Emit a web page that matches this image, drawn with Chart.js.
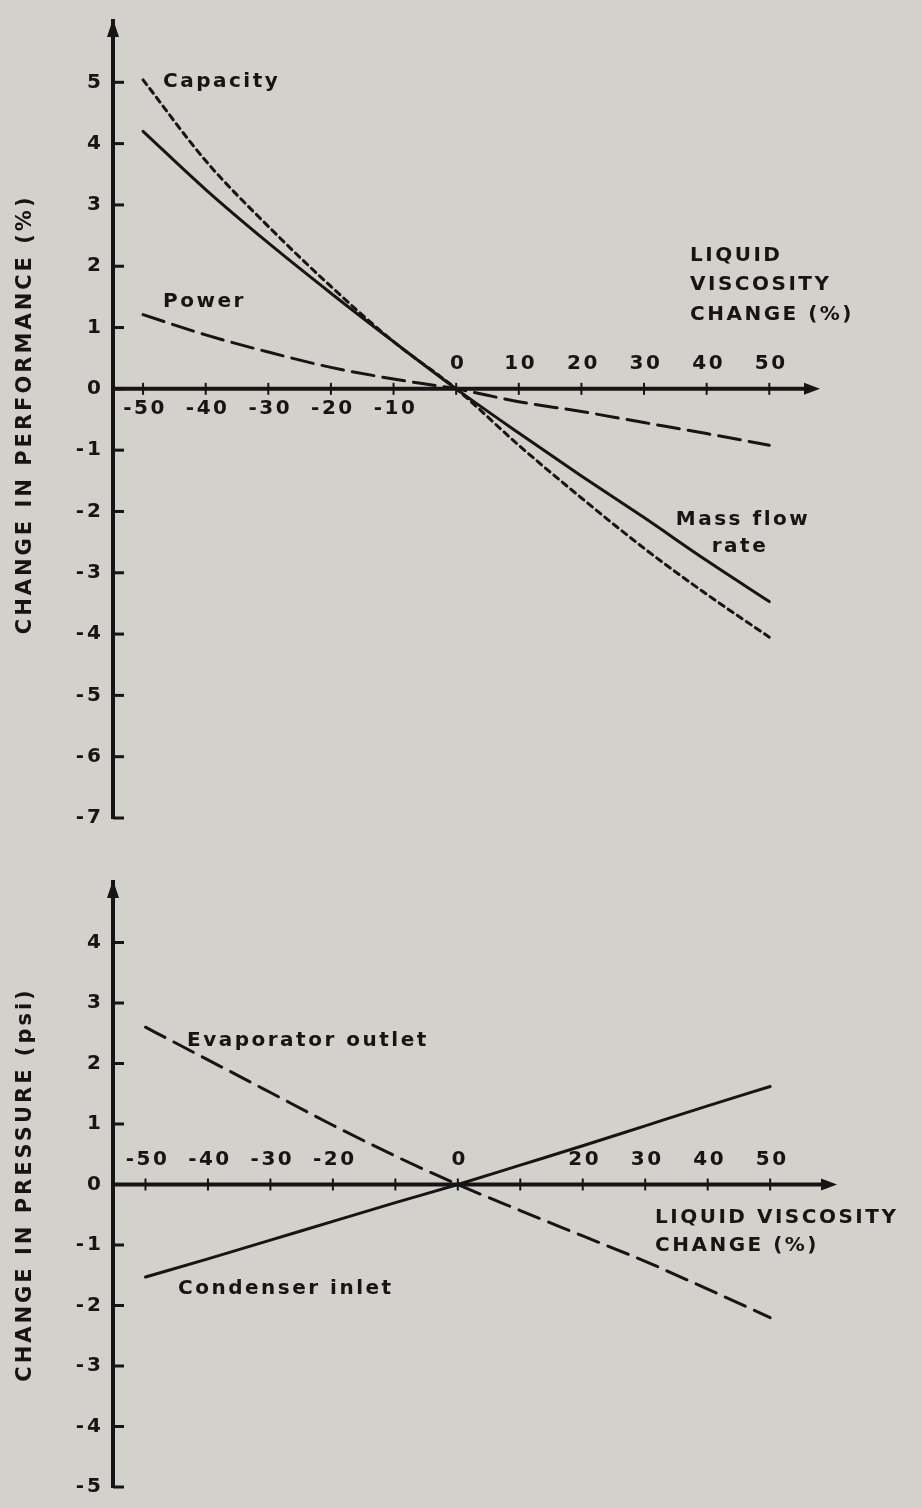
<!DOCTYPE html>
<html>
<head>
<meta charset="utf-8">
<script src="https://cdn.jsdelivr.net/npm/chart.js@4.4.0/dist/chart.umd.min.js"></script>
<style>
  html, body { margin: 0; padding: 0; background: #d3d1cc; }
  #wrap { position: relative; width: 922px; height: 1508px; }
  .box { position: absolute; left: 0; width: 922px; }
  #top { top: 0; height: 860px; }
  #bottom { top: 860px; height: 648px; }
</style>
</head>
<body>
<div id="wrap">
  <div class="box" id="top"><canvas id="perfChart"></canvas></div>
  <div class="box" id="bottom"><canvas id="pressChart"></canvas></div>
</div>
<script>
// liquid viscosity change (%)
var viscosity = [-50, -40, -30, -20, -10, 0, 10, 20, 30, 40, 50];

// top panel: change in performance (%)
var capacity = [5.04, 3.72, 2.65, 1.67, 0.77, 0, -0.92, -1.78, -2.6, -3.35, -4.05];
var massFlow = [4.2, 3.25, 2.38, 1.56, 0.77, 0, -0.72, -1.42, -2.1, -2.8, -3.47];
var power = [1.21, 0.88, 0.6, 0.35, 0.16, 0, -0.21, -0.37, -0.55, -0.73, -0.92];

// bottom panel: change in pressure (psi)
var evapOutlet = [2.6, 2.06, 1.52, 0.98, 0.47, 0, -0.43, -0.85, -1.27, -1.73, -2.2];
var condInlet = [-1.53, -1.23, -0.92, -0.61, -0.3, 0, 0.32, 0.64, 0.97, 1.3, 1.62];

// tick labels
var xTicks = [-50, -40, -30, -20, -10, 0, 10, 20, 30, 40, 50];
var perfLabelsBelow = [-50, -40, -30, -20, -10];
var perfLabelsAbove = [0, 10, 20, 30, 40, 50];
var pressLabelsAbove = [-50, -40, -30, -20, 0, 20, 30, 40, 50];
var perfYTicks = [5, 4, 3, 2, 1, 0, -1, -2, -3, -4, -5, -6, -7];
var pressYTicks = [4, 3, 2, 1, 0, -1, -2, -3, -4, -5];

var ink = '#151515';
var fam = '"DejaVu Sans", "Liberation Sans", Arial, sans-serif';
Chart.defaults.font.family = fam;

function pts(ys) {
  return viscosity.map(function (x, i) { return { x: x, y: ys[i] }; });
}

function line(label, ys, dash) {
  return {
    label: label,
    data: pts(ys),
    borderColor: ink,
    borderWidth: 3,
    borderDash: dash,
    borderCapStyle: 'round',
    pointRadius: 0,
    fill: false,
    cubicInterpolationMode: 'monotone'
  };
}

// axes drawn through the middle, arrows, inward ticks and free text
var axisDecor = {
  id: 'axisDecor',
  beforeDraw: function (chart) {
    chart.ctx.letterSpacing = '3px';
  },
  afterDatasetsDraw: function (chart, args, o) {
    var ctx = chart.ctx, xs = chart.scales.x, ys = chart.scales.y, a = chart.chartArea;
    var y0 = ys.getPixelForValue(0), ax = a.left;
    ctx.save();
    ctx.letterSpacing = '2.5px';
    ctx.strokeStyle = ink;
    ctx.fillStyle = ink;

    // x axis + arrow
    ctx.lineWidth = 4;
    ctx.beginPath();
    ctx.moveTo(ax, y0);
    ctx.lineTo(a.right - 10, y0);
    ctx.stroke();
    ctx.beginPath();
    ctx.moveTo(a.right, y0);
    ctx.lineTo(a.right - 16, y0 - 6);
    ctx.lineTo(a.right - 16, y0 + 6);
    ctx.closePath();
    ctx.fill();

    // y arrow
    ctx.beginPath();
    ctx.moveTo(ax, a.top - 2);
    ctx.lineTo(ax - 6, a.top + 16);
    ctx.lineTo(ax + 6, a.top + 16);
    ctx.closePath();
    ctx.fill();

    // inward y ticks
    ctx.lineWidth = 3;
    o.yTicks.forEach(function (v) {
      var py = ys.getPixelForValue(v);
      ctx.beginPath();
      ctx.moveTo(ax, py);
      ctx.lineTo(ax + 11, py);
      ctx.stroke();
    });

    // x tick marks
    ctx.lineWidth = 2;
    xTicks.forEach(function (v) {
      var px = xs.getPixelForValue(v);
      ctx.beginPath();
      ctx.moveTo(px, y0 - 6);
      ctx.lineTo(px, y0 + 6);
      ctx.stroke();
    });

    ctx.font = 'bold 20px ' + fam;
    ctx.textAlign = 'center';
    ctx.textBaseline = 'middle';
    (o.below || []).forEach(function (v) {
      ctx.fillText(String(v), xs.getPixelForValue(v) + 2, y0 + 20);
    });
    (o.above || []).forEach(function (v) {
      ctx.fillText(String(v), xs.getPixelForValue(v) + 2, y0 - 25);
    });

    // curve names and axis title
    (o.notes || []).forEach(function (n) {
      ctx.textAlign = n.align || 'left';
      ctx.fillText(n.text, n.x, n.y);
    });
    ctx.restore();
  }
};

function yAxis(min, max, list, title) {
  return {
    min: min,
    max: max,
    afterFit: function (s) { s.width = 113; },
    border: { display: true, color: ink, width: 4 },
    grid: { display: false, drawTicks: false },
    ticks: {
      stepSize: 1,
      padding: 9,
      color: ink,
      font: { size: 20, weight: 'bold' },
      callback: function (v) { return list.indexOf(v) >= 0 ? String(v) : ''; }
    },
    title: {
      display: true,
      text: title,
      color: ink,
      font: { size: 21, weight: 'bold' },
      padding: { top: 13, bottom: 0 }
    }
  };
}

new Chart(document.getElementById('perfChart'), {
  type: 'line',
  data: {
    datasets: [
      line('Capacity', capacity, [6, 5]),
      line('Mass flow rate', massFlow, []),
      line('Power', power, [22, 9])
    ]
  },
  options: {
    responsive: true,
    maintainAspectRatio: false,
    animation: false,
    layout: { padding: { top: 12, right: 102, bottom: 42, left: 0 } },
    scales: {
      x: { type: 'linear', display: false, min: -54.8, max: 58.1 },
      // leading space nudges the rotated title up a little
      y: yAxis(-7, 6, perfYTicks, ' CHANGE IN PERFORMANCE (%)')
    },
    plugins: {
      legend: { display: false },
      tooltip: { enabled: false },
      axisDecor: {
        yTicks: perfYTicks,
        below: perfLabelsBelow,
        above: perfLabelsAbove,
        notes: [
          { text: 'Capacity', x: 163, y: 82 },
          { text: 'Power', x: 163, y: 302 },
          { text: 'Mass flow', x: 743, y: 520, align: 'center' },
          { text: 'rate', x: 740, y: 547, align: 'center' },
          { text: 'LIQUID', x: 690, y: 256 },
          { text: 'VISCOSITY', x: 690, y: 285 },
          { text: 'CHANGE (%)', x: 690, y: 315 }
        ]
      }
    }
  },
  plugins: [axisDecor]
});

new Chart(document.getElementById('pressChart'), {
  type: 'line',
  data: {
    datasets: [
      line('Evaporator outlet', evapOutlet, [22, 10]),
      line('Condenser inlet', condInlet, [])
    ]
  },
  options: {
    responsive: true,
    maintainAspectRatio: false,
    animation: false,
    layout: { padding: { top: 22, right: 85, bottom: 10, left: 0 } },
    scales: {
      x: { type: 'linear', display: false, min: -55.2, max: 60.7 },
      y: yAxis(-5, 5, pressYTicks, 'CHANGE IN PRESSURE (psi)')
    },
    plugins: {
      legend: { display: false },
      tooltip: { enabled: false },
      axisDecor: {
        yTicks: pressYTicks,
        above: pressLabelsAbove,
        notes: [
          { text: 'Evaporator outlet', x: 187, y: 181 },
          { text: 'Condenser inlet', x: 178, y: 429 },
          { text: 'LIQUID VISCOSITY', x: 655, y: 358 },
          { text: 'CHANGE (%)', x: 655, y: 386 }
        ]
      }
    }
  },
  plugins: [axisDecor]
});
</script>
</body>
</html>
